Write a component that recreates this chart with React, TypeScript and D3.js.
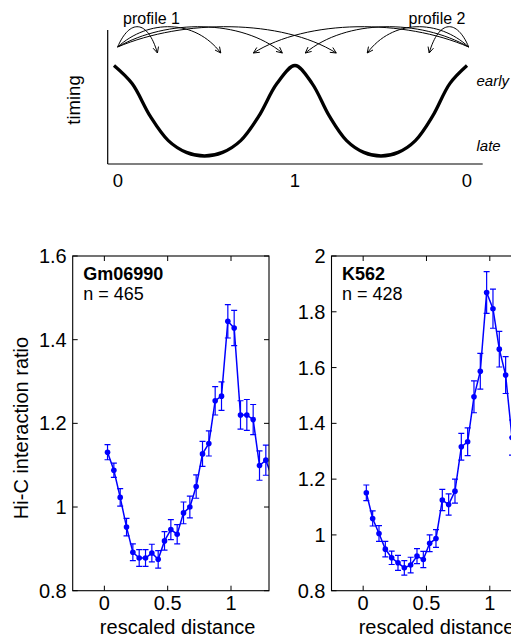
import React from "react";
import * as d3 from "d3";

// ---------- schematic (top) ----------
const schemPos = [0, 0.1, 0.2, 0.3, 0.4, 0.5, 0.6, 0.7, 0.8, 0.9, 1.0, 1.1, 1.2, 1.3, 1.4, 1.5, 1.6, 1.7, 1.8, 1.9, 2.0];
const schemTiming = [1, 0.8, 0.44, 0.17, 0.04, 0.0, 0.04, 0.17, 0.44, 0.8, 1, 0.8, 0.44, 0.17, 0.04, 0.0, 0.04, 0.17, 0.44, 0.8, 1];
const schemTickPos = [0, 1, 2];
const schemTickLabels = ["0", "1", "0"];
const profile1Origin = 0.02;
const profile1Targets = [0.24, 0.59, 0.93, 1.24];
const profile2Origin = 2.01;
const profile2Targets = [1.78, 1.42, 1.06, 0.77];

// ---------- Hi-C panels ----------
const bins = [0.025, 0.075, 0.125, 0.175, 0.225, 0.275, 0.325, 0.375, 0.425, 0.475, 0.525, 0.575, 0.625, 0.675, 0.725, 0.775, 0.825, 0.875, 0.925, 0.975, 1.025, 1.075, 1.125, 1.175, 1.225, 1.275, 1.325];
const gmRatio = [1.131, 1.088, 1.023, 0.952, 0.892, 0.878, 0.878, 0.890, 0.875, 0.919, 0.946, 0.935, 0.986, 1.000, 1.049, 1.127, 1.152, 1.254, 1.265, 1.444, 1.428, 1.220, 1.220, 1.209, 1.099, 1.112, 1.07];
const gmErr = [0.018, 0.017, 0.021, 0.021, 0.02, 0.02, 0.02, 0.021, 0.021, 0.022, 0.024, 0.023, 0.026, 0.026, 0.028, 0.03, 0.03, 0.034, 0.034, 0.04, 0.042, 0.034, 0.037, 0.036, 0.035, 0.036, 0.035];
const k562Ratio = [1.151, 1.059, 1.005, 0.949, 0.918, 0.900, 0.882, 0.892, 0.924, 0.912, 0.970, 0.987, 1.125, 1.109, 1.157, 1.316, 1.334, 1.495, 1.587, 1.869, 1.811, 1.666, 1.573, 1.349, 1.22, 1.12, 1.08];
const k562Err = [0.028, 0.027, 0.028, 0.028, 0.024, 0.027, 0.026, 0.028, 0.027, 0.029, 0.03, 0.032, 0.038, 0.038, 0.043, 0.048, 0.05, 0.057, 0.064, 0.075, 0.07, 0.064, 0.066, 0.063, 0.06, 0.055, 0.05];
const xTicks = [0, 0.5, 1];
const gmYTicks = [0.8, 1.0, 1.2, 1.4, 1.6];
const k562YTicks = [0.8, 1.0, 1.2, 1.4, 1.6, 1.8, 2.0];

const FONT = "'Liberation Sans', Arial, Helvetica, sans-serif";
const BLUE = "#0000ff";

function Schematic() {
  const x = d3.scaleLinear().domain([0, 1, 2]).range([114, 295, 467]);
  const y = d3.scaleLinear().domain([0, 1]).range([156, 65.5]);
  const pts = schemPos.map((p, i) => [p, schemTiming[i]] as [number, number]);
  const line = d3
    .line<[number, number]>()
    .x((d) => x(d[0]))
    .y((d) => y(d[1]))
    .curve(d3.curveCatmullRom.alpha(0.5));

  const originY = 47;
  const tipY = 53;
  const topY = 19;
  const arrow = (o: number, t: number, k: string) => {
    const x0 = x(o);
    const x1 = x(t);
    const dx = x1 - x0;
    const c1x = x0 + 0.3 * dx;
    const c2x = x0 + 0.75 * dx;
    const path = d3.path();
    path.moveTo(x0, originY);
    path.bezierCurveTo(c1x, topY, c2x, topY, x1, tipY);
    const ang = Math.atan2(tipY - topY, x1 - c2x);
    const L = 6.5;
    const a = 0.45;
    const h1 = [x1 - L * Math.cos(ang - a), tipY - L * Math.sin(ang - a)];
    const h2 = [x1 - L * Math.cos(ang + a), tipY - L * Math.sin(ang + a)];
    return (
      <g key={k}>
        <path d={path.toString()} fill="none" stroke="#000" strokeWidth={1} />
        <path d={`M${h1[0]},${h1[1]}L${x1},${tipY}L${h2[0]},${h2[1]}`} fill="none" stroke="#000" strokeWidth={1} />
      </g>
    );
  };

  return (
    <g fontFamily={FONT}>
      <line x1={107.7} y1={30} x2={107.7} y2={164} stroke="#000" strokeWidth={1.2} />
      <line x1={107.7} y1={164} x2={482.7} y2={164} stroke="#000" strokeWidth={1.2} />
      <path d={line(pts) || ""} fill="none" stroke="#000" strokeWidth={3.3} />
      {schemTickPos.map((p, i) => (
        <text key={i} x={x(p) + (i === 0 ? 4 : 0)} y={187} fontSize={18.5} textAnchor="middle">
          {schemTickLabels[i]}
        </text>
      ))}
      <text transform="translate(79.5,100) rotate(-90)" fontSize={18.5} textAnchor="middle">
        timing
      </text>
      <text x={476.5} y={86} fontSize={15} fontStyle="italic">early</text>
      <text x={476.5} y={150.5} fontSize={15} fontStyle="italic">late</text>
      <text x={123} y={23.5} fontSize={16}>profile 1</text>
      <text x={408.5} y={23.5} fontSize={16}>profile 2</text>
      {profile1Targets.map((t, i) => arrow(profile1Origin, t, "a" + i))}
      {profile2Targets.map((t, i) => arrow(profile2Origin, t, "b" + i))}
    </g>
  );
}

type PanelProps = {
  id: string;
  left: number;
  yDomain: [number, number];
  yTicks: number[];
  title: string;
  nLabel: string;
  ratio: number[];
  err: number[];
  showYLabel: boolean;
};

function Panel({ id, left, yDomain, yTicks, title, nLabel, ratio, err, showYLabel }: PanelProps) {
  const top = 256;
  const bottom = 590.7;
  const width = 196.3;
  const x = d3.scaleLinear().domain([-0.25, 1.3]).range([left, left + width]);
  const y = d3.scaleLinear().domain(yDomain).range([bottom, top]);
  const pts = bins.map((b, i) => [b, ratio[i]] as [number, number]);
  const line = d3
    .line<[number, number]>()
    .x((d) => x(d[0]))
    .y((d) => y(d[1]));
  const tl = 5;
  const fmt = (v: number) => String(+v.toFixed(1));
  const cap = 3;
  return (
    <g fontFamily={FONT}>
      <defs>
        <clipPath id={id}>
          <rect x={left} y={top} width={width} height={bottom - top} />
        </clipPath>
      </defs>
      <g clipPath={`url(#${id})`}>
        {pts.map((d, i) => {
          const cx = x(d[0]);
          const y1 = y(d[1] - err[i]);
          const y2 = y(d[1] + err[i]);
          return (
            <path
              key={"e" + i}
              d={`M${cx},${y1}L${cx},${y2}M${cx - cap},${y1}L${cx + cap},${y1}M${cx - cap},${y2}L${cx + cap},${y2}`}
              stroke={BLUE}
              strokeWidth={1.2}
              fill="none"
            />
          );
        })}
        <path d={line(pts) || ""} fill="none" stroke={BLUE} strokeWidth={1.5} />
        {pts.map((d, i) => (
          <circle key={"c" + i} cx={x(d[0])} cy={y(d[1])} r={2.8} fill={BLUE} />
        ))}
      </g>
      <rect x={left} y={top} width={width} height={bottom - top} fill="none" stroke="#000" strokeWidth={1.1} />
      {xTicks.map((t) => (
        <g key={"x" + t}>
          <line x1={x(t)} x2={x(t)} y1={bottom} y2={bottom - tl} stroke="#000" strokeWidth={1} />
          <line x1={x(t)} x2={x(t)} y1={top} y2={top + tl} stroke="#000" strokeWidth={1} />
          <text x={x(t)} y={610} fontSize={20} textAnchor="middle">
            {fmt(t)}
          </text>
        </g>
      ))}
      {yTicks.map((t) => (
        <g key={"y" + t}>
          <line x1={left} x2={left + tl} y1={y(t)} y2={y(t)} stroke="#000" strokeWidth={1} />
          <line x1={left + width} x2={left + width - tl} y1={y(t)} y2={y(t)} stroke="#000" strokeWidth={1} />
          <text x={left - 6} y={y(t) + 7} fontSize={20} textAnchor="end">
            {fmt(t)}
          </text>
        </g>
      ))}
      <text x={left + 10.5} y={280} fontSize={18} fontWeight="bold">
        {title}
      </text>
      <text x={left + 10.5} y={300} fontSize={18}>
        {nLabel}
      </text>
      <text x={x(0.5) + 10} y={634} fontSize={20} textAnchor="middle">
        rescaled distance
      </text>
      {showYLabel && (
        <text transform={`translate(27.5,428) rotate(-90)`} fontSize={20} textAnchor="middle">
          Hi-C interaction ratio
        </text>
      )}
    </g>
  );
}

export default function App() {
  return (
    <svg
      width={511}
      height={640}
      viewBox="0 0 511 640"
      style={{ position: "absolute", left: 0, top: 0, background: "#fff" }}
    >
      <rect x={0} y={0} width={511} height={640} fill="#fff" />
      <Schematic />
      <Panel
        id="clipGm"
        left={72.7}
        yDomain={[0.8, 1.6]}
        yTicks={gmYTicks}
        title="Gm06990"
        nLabel="n = 465"
        ratio={gmRatio}
        err={gmErr}
        showYLabel={true}
      />
      <Panel
        id="clipK"
        left={331.5}
        yDomain={[0.8, 2.0]}
        yTicks={k562YTicks}
        title="K562"
        nLabel="n = 428"
        ratio={k562Ratio}
        err={k562Err}
        showYLabel={false}
      />
    </svg>
  );
}
